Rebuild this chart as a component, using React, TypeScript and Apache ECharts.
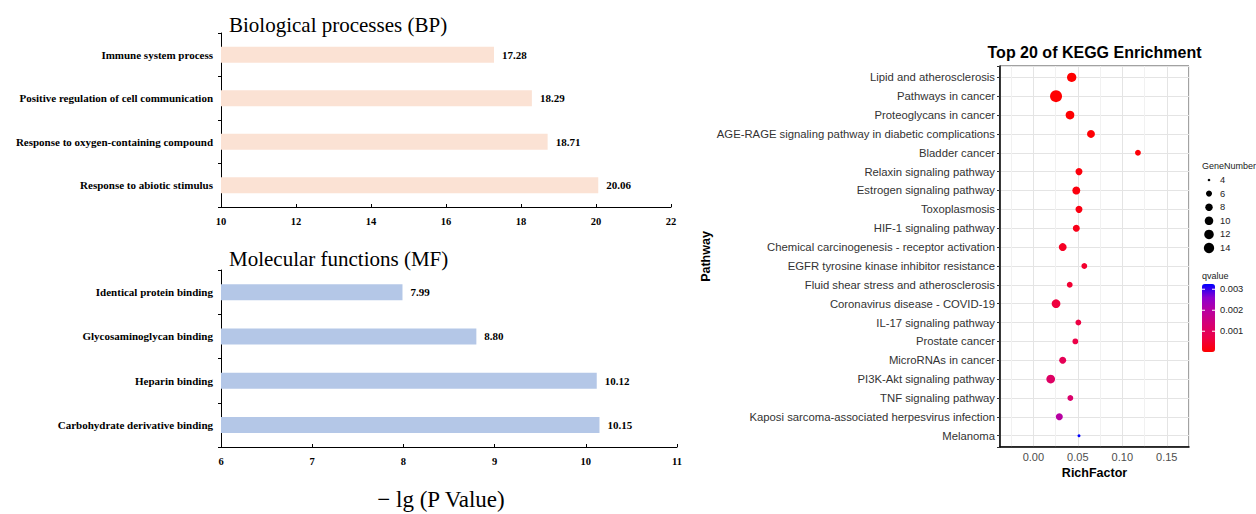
import React, { useEffect, useRef } from 'react';
import * as echarts from 'echarts';

// ---------- Data ----------
const bpCategories = [
  'Immune system process',
  'Positive regulation of cell communication',
  'Response to oxygen-containing compound',
  'Response to abiotic stimulus',
];
const bpValues = [17.28, 18.29, 18.71, 20.06];

const mfCategories = [
  'Identical protein binding',
  'Glycosaminoglycan binding',
  'Heparin binding',
  'Carbohydrate derivative binding',
];
const mfValues = [7.99, 8.8, 10.12, 10.15];

const keggPathways = [
  'Lipid and atherosclerosis',
  'Pathways in cancer',
  'Proteoglycans in cancer',
  'AGE-RAGE signaling pathway in diabetic complications',
  'Bladder cancer',
  'Relaxin signaling pathway',
  'Estrogen signaling pathway',
  'Toxoplasmosis',
  'HIF-1 signaling pathway',
  'Chemical carcinogenesis - receptor activation',
  'EGFR tyrosine kinase inhibitor resistance',
  'Fluid shear stress and atherosclerosis',
  'Coronavirus disease - COVID-19',
  'IL-17 signaling pathway',
  'Prostate cancer',
  'MicroRNAs in cancer',
  'PI3K-Akt signaling pathway',
  'TNF signaling pathway',
  'Kaposi sarcoma-associated herpesvirus infection',
  'Melanoma',
];
const keggRichFactor = [
  0.0431, 0.0255, 0.0412, 0.0648, 0.1176, 0.0513, 0.0483, 0.0513, 0.0483, 0.033,
  0.0573, 0.0409, 0.0255, 0.0506, 0.0472, 0.033, 0.0195, 0.0416, 0.0292, 0.0513,
];
const keggGeneNumber = [9, 14, 8, 7, 5, 6, 7, 6, 6, 7, 5, 5, 8, 5, 5, 6, 8, 5, 6, 4];
const keggQvalue = [
  0.00001, 0.00002, 0.00003, 0.00005, 0.00008, 0.00012, 0.00014, 0.00018, 0.00025, 0.00035,
  0.00045, 0.0005, 0.0006, 0.00065, 0.0007, 0.0009, 0.0011, 0.0012, 0.002, 0.00325,
];
const geneLegendBreaks = [4, 6, 8, 10, 12, 14];
const qLegendBreaks = [0.001, 0.002, 0.003];
const qColors = ['#FF0000', '#ED0044', '#D70072', '#BA009F', '#8D00CF', '#0000FF'];

// ---------- Styling ----------
const SERIF = '"Liberation Serif", "Times New Roman", serif';
const SANS = '"Liberation Sans", Arial, Helvetica, sans-serif';

const gMin = Math.min(...keggGeneNumber);
const gMax = Math.max(...keggGeneNumber);
const qMin = Math.min(...keggQvalue);
const qMax = Math.max(...keggQvalue);
const geneSize = (v: number) => 3 + 9 * Math.sqrt(Math.max(0, (v - gMin) / (gMax - gMin)));

const isMult = (v: number, step: number) => Math.abs(v / step - Math.round(v / step)) < 1e-6;

export default function App() {
  const ref = useRef<HTMLDivElement>(null);

  useEffect(() => {
    document.body.style.margin = '0';
    const chart = echarts.init(ref.current!, null, { renderer: 'svg' });

    const leftCatAxis = (gridIndex: number, data: string[]) => ({
      type: 'category',
      gridIndex,
      data,
      inverse: true,
      axisLine: { show: true, lineStyle: { color: '#000', width: 1 } },
      axisTick: { show: true, length: 3, lineStyle: { color: '#000' } },
      axisLabel: {
        margin: 8,
        color: '#000',
        fontFamily: SERIF,
        fontWeight: 'bold',
        fontSize: 11,
      },
      splitLine: { show: false },
    });

    const leftValAxis = (gridIndex: number, min: number, max: number, interval: number) => ({
      type: 'value',
      gridIndex,
      min,
      max,
      interval,
      axisLine: { show: true, onZero: false, lineStyle: { color: '#000', width: 1 } },
      axisTick: { show: true, inside: true, length: 3, lineStyle: { color: '#000' } },
      axisLabel: {
        margin: 9,
        color: '#000',
        fontFamily: SERIF,
        fontWeight: 'bold',
        fontSize: 10.5,
      },
      splitLine: { show: false },
    });

    const barLabel = {
      show: true,
      position: 'right',
      distance: 8,
      color: '#000',
      fontFamily: SERIF,
      fontWeight: 'bold',
      fontSize: 11,
      formatter: (p: any) => Number(p.value).toFixed(2),
    };

    // KEGG legend (graphic)
    const cbLeft = 1202;
    const cbTop = 284;
    const cbW = 13;
    const cbH = 68;
    const legendGraphics: any[] = [];
    geneLegendBreaks.forEach((b, i) => {
      const y = 180 + i * 13.6;
      legendGraphics.push({
        type: 'circle',
        shape: { cx: 1209, cy: y, r: (geneSize(b) * 0.86) / 2 },
        style: { fill: '#000' },
        silent: true,
      });
      legendGraphics.push({
        type: 'text',
        x: 1220,
        y,
        style: { text: String(b), fontSize: 9.3, fontFamily: SANS, fill: '#222', verticalAlign: 'middle', align: 'left' },
        silent: true,
      });
    });
    qLegendBreaks.forEach((b) => {
      const y = cbTop + cbH - ((b - qMin) / (qMax - qMin)) * cbH;
      legendGraphics.push({
        type: 'text',
        x: 1220,
        y,
        style: { text: b.toFixed(3), fontSize: 9.3, fontFamily: SANS, fill: '#222', verticalAlign: 'middle', align: 'left' },
        silent: true,
        z: 10,
      });
      legendGraphics.push({
        type: 'line',
        shape: { x1: cbLeft, y1: y, x2: cbLeft + 3, y2: y },
        style: { stroke: '#fff', lineWidth: 1 },
        silent: true,
        z: 100,
      });
      legendGraphics.push({
        type: 'line',
        shape: { x1: cbLeft + cbW - 3, y1: y, x2: cbLeft + cbW, y2: y },
        style: { stroke: '#fff', lineWidth: 1 },
        silent: true,
        z: 100,
      });
    });

    const option: any = {
      animation: false,
      backgroundColor: '#fff',
      grid: [
        { left: 221, top: 33, width: 450, height: 174, containLabel: false },
        { left: 221, top: 270, width: 456, height: 177, containLabel: false },
        {
          left: 1000,
          top: 66,
          width: 189,
          height: 381,
          containLabel: false,
          show: true,
          backgroundColor: '#fff',
          borderColor: '#444',
          borderWidth: 1,
        },
      ],
      xAxis: [
        leftValAxis(0, 10, 22, 2),
        leftValAxis(1, 6, 11, 1),
        {
          type: 'value',
          gridIndex: 2,
          min: -0.0375,
          max: 0.175,
          minInterval: 0.025,
          maxInterval: 0.025,
          name: 'RichFactor',
          nameLocation: 'middle',
          nameGap: 14,
          nameTextStyle: { fontFamily: SANS, fontWeight: 'bold', fontSize: 12.5, color: '#000' },
          axisLine: { show: true, onZero: false, lineStyle: { color: '#000', width: 1.5 } },
          axisTick: { show: false },
          axisLabel: {
            margin: 4,
            color: '#4d4d4d',
            fontFamily: SANS,
            fontSize: 11,
            formatter: (v: number) => (isMult(v, 0.05) && v >= -1e-9 ? v.toFixed(2) : ''),
          },
          splitLine: { show: true, lineStyle: { color: ['#e4e4e4', '#f1f1f1'], width: 1 } },
        },
      ],
      yAxis: [
        leftCatAxis(0, bpCategories),
        leftCatAxis(1, mfCategories),
        {
          type: 'value',
          gridIndex: 2,
          inverse: true,
          min: -0.6,
          max: 19.6,
          minInterval: 1,
          maxInterval: 1,
          name: 'Pathway',
          nameLocation: 'middle',
          nameGap: 287,
          nameRotate: 90,
          nameTextStyle: { fontFamily: SANS, fontWeight: 'bold', fontSize: 12.5, color: '#000' },
          axisLine: { show: true, onZero: false, lineStyle: { color: '#000', width: 1.5 } },
          axisTick: { show: true, length: 3, lineStyle: { color: '#333' } },
          axisLabel: {
            margin: 5,
            color: '#333',
            fontFamily: SANS,
            fontSize: 11.3,
            formatter: (v: number) => (isMult(v, 1) ? keggPathways[Math.round(v)] ?? '' : ''),
          },
          splitLine: { show: true, lineStyle: { color: '#e4e4e4', width: 1 } },
        },
      ],
      visualMap: [
        {
          type: 'continuous',
          seriesIndex: 2,
          dimension: 3,
          min: qMin,
          max: qMax,
          calculable: false,
          orient: 'vertical',
          left: cbLeft,
          top: cbTop,
          itemWidth: cbW,
          itemHeight: cbH,
          padding: 0,
          inRange: { color: qColors },
          textStyle: { color: 'transparent' },
        },
      ],
      series: [
        {
          type: 'bar',
          xAxisIndex: 0,
          yAxisIndex: 0,
          data: bpValues,
          barWidth: 16,
          itemStyle: { color: '#FBE2D4' },
          label: barLabel,
          clip: true,
        },
        {
          type: 'bar',
          xAxisIndex: 1,
          yAxisIndex: 1,
          data: mfValues,
          barWidth: 16,
          itemStyle: { color: '#B4C7E7' },
          label: barLabel,
          clip: true,
        },
        {
          type: 'scatter',
          xAxisIndex: 2,
          yAxisIndex: 2,
          data: keggPathways.map((_, i) => [keggRichFactor[i], i, keggGeneNumber[i], keggQvalue[i]]),
          symbol: 'circle',
          symbolSize: (val: number[]) => geneSize(val[2]),
          itemStyle: { opacity: 1 },
        },
      ],
      graphic: [
        {
          type: 'text',
          x: 229,
          y: 25,
          style: { text: 'Biological processes (BP)', fontFamily: SERIF, fontSize: 21, fill: '#000', verticalAlign: 'middle' },
          silent: true,
        },
        {
          type: 'text',
          x: 229,
          y: 259,
          style: { text: 'Molecular functions (MF)', fontFamily: SERIF, fontSize: 21, fill: '#000', verticalAlign: 'middle' },
          silent: true,
        },
        {
          type: 'text',
          x: 441,
          y: 499,
          style: {
            text: '\u2212 lg (P Value)',
            fontFamily: SERIF,
            fontSize: 23,
            fill: '#000',
            align: 'center',
            verticalAlign: 'middle',
          },
          silent: true,
        },
        {
          type: 'text',
          x: 1094.5,
          y: 52,
          style: {
            text: 'Top 20 of KEGG Enrichment',
            fontFamily: SANS,
            fontWeight: 'bold',
            fontSize: 16,
            fill: '#000',
            align: 'center',
            verticalAlign: 'middle',
          },
          silent: true,
        },
        {
          type: 'text',
          x: 1202,
          y: 166,
          style: { text: 'GeneNumber', fontFamily: SANS, fontSize: 9, fill: '#222', verticalAlign: 'middle' },
          silent: true,
        },
        {
          type: 'text',
          x: 1202,
          y: 276,
          style: { text: 'qvalue', fontFamily: SANS, fontSize: 9, fill: '#222', verticalAlign: 'middle' },
          silent: true,
        },
        ...legendGraphics,
      ],
    };

    chart.setOption(option);
    return () => chart.dispose();
  }, []);

  return <div ref={ref} style={{ width: 1256, height: 514 }} />;
}
